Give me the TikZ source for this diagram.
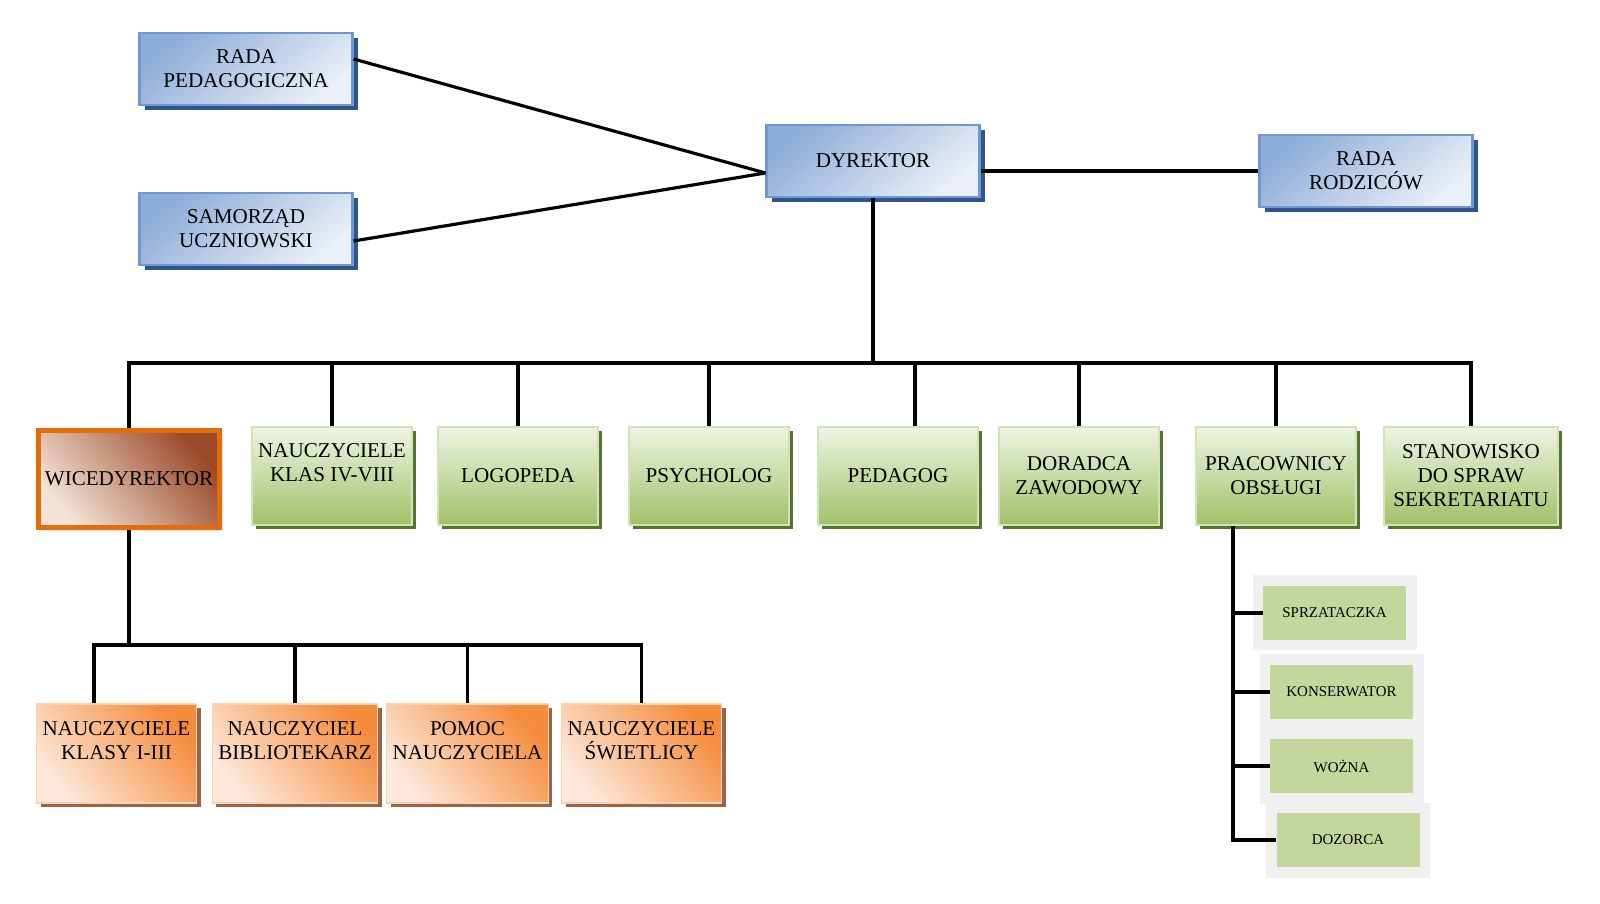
\documentclass[tikz,border=0pt]{standalone}
\usepackage{fontspec}
\setmainfont{Liberation Serif}
\usetikzlibrary{shadows}

\definecolor{bluedark}{HTML}{8EADD8}
\definecolor{bluelight}{HTML}{EAEFF8}
\definecolor{blueedge}{HTML}{6F97D0}
\definecolor{blueshade}{HTML}{2F5590}
\definecolor{greentop}{HTML}{EEF4E4}
\definecolor{greenbot}{HTML}{A0C166}
\definecolor{greenedge}{HTML}{D2E2BA}
\definecolor{greenshade}{HTML}{55722E}
\definecolor{browndark}{HTML}{9A4A28}
\definecolor{brownlight}{HTML}{F4E2D6}
\definecolor{orangeedge}{HTML}{E46C0A}
\definecolor{orangedark}{HTML}{F58C3C}
\definecolor{orangelight}{HTML}{FDE8DA}
\definecolor{orangeshade}{HTML}{9B6444}
\definecolor{smallgreen}{HTML}{C3D69B}
\definecolor{framegray}{HTML}{F0F0F0}

\begin{document}
\begin{tikzpicture}[
    boss/.style={rectangle, draw=blueedge, line width=1.2pt,
        top color=bluedark, bottom color=bluelight, shading angle=40,
        drop shadow={shadow xshift=0.1cm, shadow yshift=-0.1cm, fill=blueshade, opacity=1},
        minimum width=4.26cm, minimum height=1.44cm, align=center,
        font=\fontsize{12}{13.6}\selectfont},
    staff/.style={rectangle, draw=greenedge, line width=0.8pt,
        top color=greentop, bottom color=greenbot,
        drop shadow={shadow xshift=0.08cm, shadow yshift=-0.08cm, fill=greenshade, opacity=1},
        minimum width=3.2cm, minimum height=1.96cm, align=center,
        font=\fontsize{12}{13.6}\selectfont},
    deputy/.style={rectangle, draw=orangeedge, line width=0.1cm,
        top color=browndark, bottom color=brownlight, shading angle=-50,
        drop shadow={shadow xshift=0.08cm, shadow yshift=-0.08cm, fill=orangedark!25, opacity=1},
        minimum width=3.54cm, minimum height=1.94cm, align=center,
        font=\fontsize{12}{13.6}\selectfont},
    teacher/.style={rectangle, draw=orangedark!40, line width=0.6pt,
        top color=orangedark, bottom color=orangelight, shading angle=-50,
        drop shadow={shadow xshift=0.08cm, shadow yshift=-0.08cm, fill=orangeshade, opacity=1},
        minimum width=3.2cm, minimum height=1.98cm, align=center, text depth=15pt,
        font=\fontsize{12}{13.6}\selectfont},
    worker/.style={rectangle, fill=smallgreen,
        preaction={draw=framegray, line width=0.42cm},
        minimum width=2.86cm, minimum height=1.08cm,
        font=\fontsize{8.5}{10}\selectfont},
    link/.style={line width=1.8pt}
]
\useasboundingbox (0,0) rectangle (32,-18.08);

% top level
\node[boss] (rped) at (4.92,-1.38) {RADA\\PEDAGOGICZNA};
\node[boss] (sam) at (4.92,-4.58) {SAMORZĄD\\UCZNIOWSKI};
\node[boss] (dyr) at (17.46,-3.22) {DYREKTOR};
\node[boss] (rodz) at (27.32,-3.42) {RADA\\RODZICÓW};

\coordinate (dyrin) at ([yshift=-0.24cm]dyr.west);
\draw[link] ([yshift=0.2cm]rped.east) -- (dyrin);
\draw[link] ([yshift=-0.24cm]sam.east) -- (dyrin);
\draw[link] (dyr.east |- rodz.west) -- (rodz.west);

% second level
\node[deputy] (wice) at (2.58,-9.58) {WICEDYREKTOR};
\node[staff] (nkl) at (6.64,-9.52) [text depth=15pt] {NAUCZYCIELE\\KLAS IV-VIII};
\node[staff] (logo) at (10.36,-9.52) {LOGOPEDA};
\node[staff] (psych) at (14.18,-9.52) {PSYCHOLOG};
\node[staff] (pedag) at (17.96,-9.52) {PEDAGOG};
\node[staff] (dorad) at (21.58,-9.52) {DORADCA\\ZAWODOWY};
\node[staff] (prac) at (25.52,-9.52) {PRACOWNICY\\OBSŁUGI};
\node[staff, minimum width=3.48cm] (stan) at (29.42,-9.52) {STANOWISKO\\DO SPRAW\\SEKRETARIATU};

\coordinate (bus) at (17.4,-7.26);
\draw[link] (dyr.south) -- (dyr.south |- bus);
\draw[link] (wice.north) -- (wice.north |- bus) -- (stan.north |- bus) -- (stan.north);
\foreach \n in {nkl,logo,psych,dorad,prac}
    \draw[link] (\n.north) -- (\n.north |- bus);
\draw[link] ([xshift=0.34cm]pedag.north) -- ([xshift=0.34cm]pedag.north |- bus);

% under the deputy
\node[teacher] (kl13) at (2.33,-15.07) {NAUCZYCIELE\\KLASY I-III};
\node[teacher] (bibl) at (5.9,-15.07) {NAUCZYCIEL\\BIBLIOTEKARZ};
\node[teacher] (pomoc) at (9.35,-15.07) {POMOC\\NAUCZYCIELA};
\node[teacher] (swiet) at (12.83,-15.07) {NAUCZYCIELE\\ŚWIETLICY};

\coordinate (wbus) at (2.6,-12.9);
\draw[link] (wice.south) -- (wice.south |- wbus);
\draw[link] ([xshift=-0.45cm]kl13.north) |- (wbus) -| (swiet.north);
\foreach \n in {bibl,pomoc}
    \draw[link] (\n.north) -- (\n.north |- wbus);

% service staff
\node[worker] (sprz) at (26.69,-12.26) {SPRZATACZKA};
\node[worker] (kons) at (26.83,-13.84) {KONSERWATOR};
\node[worker] (wozna) at (26.83,-15.32) {WOŻNA};
\node[worker] (dozor) at (26.96,-16.8) {DOZORCA};

\coordinate (pbus) at ([xshift=-0.86cm]prac.south);
\draw[link] (pbus) |- (dozor.west);
\foreach \n in {sprz,kons,wozna}
    \draw[link] (pbus |- \n.west) -- (\n.west);
\end{tikzpicture}
\end{document}
